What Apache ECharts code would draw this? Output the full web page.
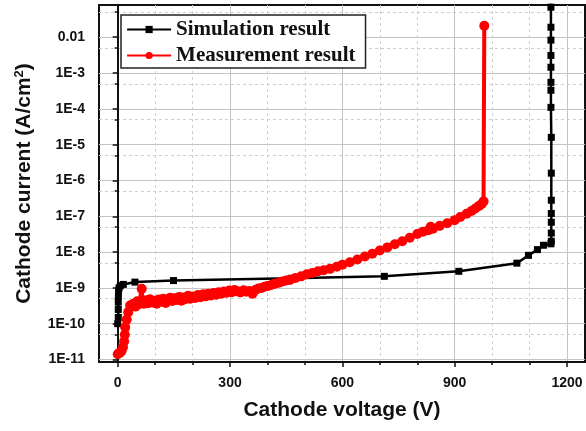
<!DOCTYPE html>
<html>
<head>
<meta charset="utf-8">
<script src="https://cdn.jsdelivr.net/npm/echarts@6/dist/echarts.min.js"></script>
<style>
  html, body { margin: 0; padding: 0; background: #fff; }
  #chart { width: 586px; height: 431px; }
</style>
</head>
<body>
<div id="chart"></div>
<script>
// simulation (black squares)
const simVoltage = [0, 1.5, 1.5, 1.5, 1.8, 2.2, 3.5, 7, 15, 46, 149, 463, 712, 911, 1066, 1097, 1121, 1137, 1157,
  1158, 1158, 1158, 1158, 1158, 1158, 1158, 1157, 1157, 1157, 1157, 1157, 1157, 1157, 1157, 1157];
const simCurrent = [1.0e-10, 1.5e-10, 2.5e-10, 4e-10, 6e-10, 8e-10, 1.0e-9, 1.15e-9, 1.25e-9, 1.45e-9, 1.6e-9,
  1.85e-9, 2.1e-9, 2.9e-9, 4.9e-9, 8.1e-9, 1.17e-8, 1.55e-8, 1.7e-8,
  2.0e-8, 3.4e-8, 6.8e-8, 1.2e-7, 2.8e-7, 1.6e-6, 1.6e-5, 1.1e-4, 3.3e-4, 5.5e-4, 1.45e-3, 3.1e-3, 8.3e-3, 0.019, 0.069, 0.5];

// measurement (red circles)
const measVoltage = [0, 3, 6, 10, 14, 17, 19, 20, 24, 28, 33, 38, 42, 47, 52, 57, 64, 66, 70, 75, 80, 86, 92, 98,
  104, 110, 116, 122, 128, 134, 140, 146, 152, 158, 164, 170, 176, 182, 188, 194, 200, 207, 214, 221, 228, 235,
  242, 249, 256, 263, 270, 277, 284, 291, 298, 305, 312, 320, 328, 336, 344, 352, 360, 368, 376, 384, 392, 400,
  410, 420, 430, 440, 450, 460, 475, 490, 505, 520, 535, 550, 567, 585, 600, 620, 640, 660, 680, 700, 720, 740,
  760, 780, 800, 815, 830, 836, 842, 860, 880, 900, 915, 932, 945, 955, 965, 972, 977, 979];
const measCurrent = [1.4e-11, 1.5e-11, 1.55e-11, 1.7e-11, 2.2e-11, 3.2e-11, 4.9e-11, 7.9e-11, 1.3e-10, 2.1e-10,
  3.2e-10, 3.4e-10, 3.6e-10, 3.0e-10, 4.2e-10, 3.5e-10, 9.4e-10, 4.0e-10, 3.6e-10, 4.5e-10, 3.7e-10, 4.8e-10,
  3.9e-10, 4.4e-10, 3.6e-10, 4.7e-10, 4.1e-10, 5.0e-10, 3.8e-10, 4.6e-10, 5.3e-10, 4.3e-10, 5.1e-10, 4.6e-10,
  5.6e-10, 4.4e-10, 5.4e-10, 4.9e-10, 6.0e-10, 5.0e-10, 5.7e-10, 5.2e-10, 6.3e-10, 5.5e-10, 6.6e-10, 5.8e-10,
  6.9e-10, 6.1e-10, 7.2e-10, 6.4e-10, 7.6e-10, 6.9e-10, 7.9e-10, 7.3e-10, 8.4e-10, 7.6e-10, 8.7e-10, 8.0e-10,
  7.4e-10, 8.6e-10, 7.8e-10, 8.2e-10, 6.9e-10, 8.8e-10, 9.6e-10, 1.0e-9, 1.08e-9, 1.12e-9, 1.2e-9, 1.3e-9,
  1.4e-9, 1.5e-9, 1.6e-9, 1.67e-9, 1.9e-9, 2.1e-9, 2.4e-9, 2.6e-9, 2.9e-9, 3.1e-9, 3.4e-9, 3.9e-9, 4.4e-9,
  5.2e-9, 6.2e-9, 7.5e-9, 9.0e-9, 1.1e-8, 1.35e-8, 1.65e-8, 2.0e-8, 2.5e-8, 3.2e-8, 3.7e-8, 4.1e-8, 5.1e-8,
  4.5e-8, 5.4e-8, 6.4e-8, 7.8e-8, 9.5e-8, 1.17e-7, 1.4e-7, 1.65e-7, 1.95e-7, 2.2e-7, 2.6e-7, 0.021];

// ticks
const xMajorTicks = [0, 300, 600, 900, 1200];
const xMinorTicks = [100, 200, 400, 500, 700, 800, 1000, 1100];
const yMajorTicks = [1e-11, 1e-10, 1e-9, 1e-8, 1e-7, 1e-6, 1e-5, 1e-4, 1e-3, 0.01];
const yTickLabels = ['1E-11', '1E-10', '1E-9', '1E-8', '1E-7', '1E-6', '1E-5', '1E-4', '1E-3', '0.01'];
const yMinorTicks = [5e-11, 5e-10, 5e-9, 5e-8, 5e-7, 5e-6, 5e-5, 5e-4, 5e-3, 0.05];

const lg = Math.log10;
const pairs = (xs, ys) => xs.map((x, i) => [x, lg(ys[i])]);

const chart = echarts.init(document.getElementById('chart'));

const labelFont = {fontFamily: 'Liberation Sans, Arial', fontWeight: 'bold', fontSize: 14, color: '#111'};
const titleFont = {fontFamily: 'Liberation Sans, Arial', fontWeight: 'bold', fontSize: 21, color: '#111'};
const xRange = {min: -50, max: 1248};
const yRange = {min: -11.07, max: -1.1};

chart.setOption({
  animation: false,
  grid: {
    left: 99, right: 1, top: 5, bottom: 69,
    show: true, borderColor: '#111', borderWidth: 2,
  },
  legend: {
    orient: 'vertical',
    left: 121, top: 15,
    padding: [4, 10, 2, 5],
    itemWidth: 44, itemHeight: 9, itemGap: 5,
    borderColor: '#222', borderWidth: 1.5,
    backgroundColor: '#fff',
    lineStyle: {width: 2.2},
    textStyle: {fontFamily: 'Liberation Serif, Times New Roman', fontWeight: 'bold', fontSize: 21, color: '#111', lineHeight: 21},
    data: ['Simulation result', 'Measurement result'],
  },
  xAxis: [
    {
      type: 'value', position: 'bottom', ...xRange,
      name: 'Cathode voltage (V)', nameLocation: 'middle', nameGap: 38,
      nameTextStyle: titleFont,
      axisLine: {show: true, lineStyle: {color: '#111', width: 2}},
      axisTick: {show: true, inside: false, length: 5, lineStyle: {color: '#111', width: 1.5}, customValues: xMajorTicks},
      axisLabel: {...labelFont, margin: 14, customValues: xMajorTicks, formatter: (v) => String(v)},
      splitLine: {show: true, lineStyle: {color: '#c4c4c4', width: 1}},
    },
    {
      type: 'value', position: 'bottom', ...xRange,
      axisLine: {show: false},
      axisTick: {show: true, length: 3, lineStyle: {color: '#111', width: 1.5}, customValues: xMinorTicks},
      axisLabel: {show: false},
      splitLine: {show: true, lineStyle: {color: '#cfcfcf', width: 1, type: [3, 3]}},
    },
  ],
  yAxis: [
    {
      type: 'value', position: 'left', ...yRange,
      name: '{t|Cathode current (A/cm}{s|2}{t|)}', nameLocation: 'middle', nameGap: 64,
      nameTextStyle: {
        rich: {
          t: titleFont,
          s: {...titleFont, fontSize: 13, verticalAlign: 'top', lineHeight: 22},
        },
      },
      axisLine: {show: true, lineStyle: {color: '#111', width: 2}},
      axisTick: {show: true, length: 5, lineStyle: {color: '#111', width: 1.5}, customValues: yMajorTicks.map(lg)},
      axisLabel: {
        ...labelFont, margin: 14,
        customValues: yMajorTicks.map(lg),
        formatter: (v) => {
          const i = yMajorTicks.findIndex((t) => Math.abs(lg(t) - v) < 1e-6);
          return i < 0 ? '' : yTickLabels[i];
        },
      },
      splitLine: {show: true, lineStyle: {color: '#c4c4c4', width: 1}},
    },
    {
      type: 'value', position: 'left', ...yRange,
      axisLine: {show: false},
      axisTick: {show: true, length: 3, lineStyle: {color: '#111', width: 1.5}, customValues: yMinorTicks.map(lg)},
      axisLabel: {show: false},
      splitLine: {show: true, lineStyle: {color: '#cfcfcf', width: 1, type: [3, 3]}},
    },
  ],
  series: [
    {
      name: 'Simulation result',
      type: 'line',
      xAxisIndex: 0, yAxisIndex: 0,
      data: pairs(simVoltage, simCurrent),
      symbol: 'rect', symbolSize: 7,
      itemStyle: {color: '#000'},
      lineStyle: {color: '#000', width: 2.5},
      z: 3,
    },
    {
      name: 'Measurement result',
      type: 'line',
      xAxisIndex: 0, yAxisIndex: 0,
      data: pairs(measVoltage, measCurrent),
      symbol: 'circle', symbolSize: 10,
      itemStyle: {color: '#f00'},
      lineStyle: {color: '#f00', width: 4},
      z: 4,
    },
  ],
});
</script>
</body>
</html>
